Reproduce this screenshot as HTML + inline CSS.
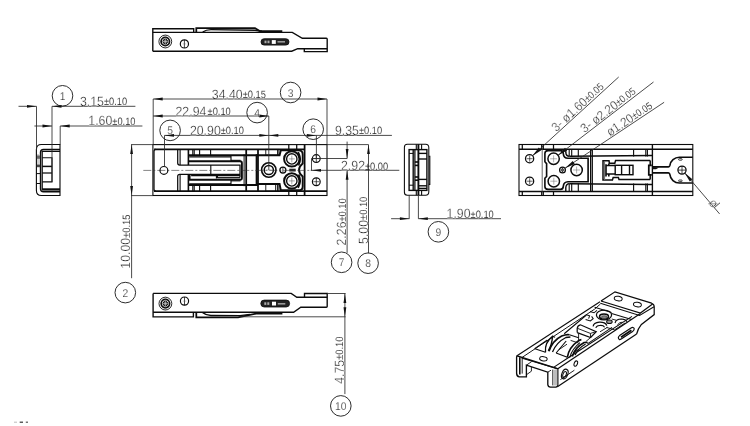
<!DOCTYPE html>
<html><head><meta charset="utf-8"><title>Drawing</title>
<style>
html,body{margin:0;padding:0;background:#fff;}
body{width:750px;height:426px;overflow:hidden;}
svg{display:block;font-family:"Liberation Sans",sans-serif;will-change:transform;text-rendering:geometricPrecision;}
</style></head><body>
<svg width="750" height="426" viewBox="0 0 750 426">
<rect x="0" y="0" width="750" height="426" fill="#fff"/>
<path d="M152.8,51.2 V28.7 H193.7 V32.4" stroke="#0c0c0c" stroke-width="1.38" fill="none" />
<path d="M152.8,32.4 H292.3 L302.3,38.3 H326.4 Q327.2,38.3 327.2,39.2 V51.6 H304.3 V48.7" stroke="#0c0c0c" stroke-width="1.38" fill="none" />
<path d="M152.8,51.2 H291.7 L297.7,48.7 H327.2" stroke="#0c0c0c" stroke-width="1.38" fill="none" />
<path d="M196.3,32.4 V28.1 H255 L259.7,31 H282.3" stroke="#0c0c0c" stroke-width="1.75" fill="none" />
<path d="M202.7,32 Q206,29.6 211,29.6 L255,30.2 L262,31.2" stroke="#0c0c0c" stroke-width="1.38" fill="none" />
<circle cx="165.3" cy="41.5" r="6.4" stroke="#0c0c0c" stroke-width="0.88" fill="none"/>
<circle cx="165.3" cy="41.5" r="4.2" stroke="#0c0c0c" stroke-width="1.75" fill="none"/>
<circle cx="165.3" cy="41.5" r="2.3" stroke="#0c0c0c" stroke-width="1.0" fill="#6a6a6a"/>
<line x1="165.3" y1="34.6" x2="165.3" y2="48.4" stroke="#666" stroke-width="0.4" />
<line x1="163" y1="41.5" x2="167.6" y2="41.5" stroke="#ddd" stroke-width="0.5" />
<line x1="165.3" y1="39.2" x2="165.3" y2="43.8" stroke="#ddd" stroke-width="0.5" />
<circle cx="184.4" cy="43.9" r="4.1" stroke="#0c0c0c" stroke-width="1.19" fill="none"/>
<line x1="184.4" y1="39.8" x2="184.4" y2="48" stroke="#0c0c0c" stroke-width="0.75" />
<line x1="182.6" y1="43.9" x2="186.2" y2="43.9" stroke="#666" stroke-width="0.4" />
<rect x="261" y="38.7" width="28" height="6.4" rx="3.2" stroke="#0c0c0c" stroke-width="0.8" fill="#222"/>
<rect x="271.8" y="40.1" width="4" height="3.8" rx="0" stroke="none" stroke-width="0" fill="#fff"/>
<rect x="264.5" y="40.6" width="2" height="2.6" rx="0" stroke="none" stroke-width="0" fill="#aaa"/>
<rect x="267.5" y="40.6" width="2" height="2.6" rx="0" stroke="none" stroke-width="0" fill="#aaa"/>
<rect x="277.5" y="41" width="7.5" height="1.6" rx="0" stroke="none" stroke-width="0" fill="#999"/>
<path d="M153.1,293.4 V316.9 H193.4 V312.5" stroke="#0c0c0c" stroke-width="1.38" fill="none" />
<path d="M153.1,293.4 H291.2 L296.8,297.2 H327.2" stroke="#0c0c0c" stroke-width="1.38" fill="none" />
<path d="M304.5,297.2 V293.5 H327.2 V306.6 Q327.2,307.3 326.4,307.3 H300.8 L293.6,312.3 H153.1" stroke="#0c0c0c" stroke-width="1.38" fill="none" />
<path d="M196.3,312.5 V317.4 H238 L256,313.6 H282.4" stroke="#0c0c0c" stroke-width="1.75" fill="none" />
<path d="M202.7,312.8 Q206,315.4 211,315.5 L240,315.6 L250,314.4" stroke="#0c0c0c" stroke-width="1.38" fill="none" />
<circle cx="165.4" cy="303.6" r="6.4" stroke="#0c0c0c" stroke-width="0.88" fill="none"/>
<circle cx="165.4" cy="303.6" r="4.2" stroke="#0c0c0c" stroke-width="1.75" fill="none"/>
<circle cx="165.4" cy="303.6" r="2.3" stroke="#0c0c0c" stroke-width="1.0" fill="#6a6a6a"/>
<line x1="165.4" y1="296.8" x2="165.4" y2="310.4" stroke="#666" stroke-width="0.4" />
<line x1="163.1" y1="303.6" x2="167.7" y2="303.6" stroke="#ddd" stroke-width="0.5" />
<line x1="165.4" y1="301.3" x2="165.4" y2="305.9" stroke="#ddd" stroke-width="0.5" />
<circle cx="184.5" cy="301.1" r="4.1" stroke="#0c0c0c" stroke-width="1.19" fill="none"/>
<line x1="184.5" y1="297" x2="184.5" y2="305.2" stroke="#0c0c0c" stroke-width="0.75" />
<line x1="182.7" y1="301.1" x2="186.3" y2="301.1" stroke="#666" stroke-width="0.4" />
<rect x="260.8" y="300.1" width="28.8" height="6.9" rx="3.4" stroke="#0c0c0c" stroke-width="0.8" fill="#222"/>
<rect x="272" y="301.7" width="4" height="3.8" rx="0" stroke="none" stroke-width="0" fill="#fff"/>
<rect x="264.3" y="302.3" width="2" height="2.6" rx="0" stroke="none" stroke-width="0" fill="#aaa"/>
<rect x="267.3" y="302.3" width="2" height="2.6" rx="0" stroke="none" stroke-width="0" fill="#aaa"/>
<rect x="277.8" y="303" width="7.5" height="1.6" rx="0" stroke="none" stroke-width="0" fill="#999"/>
<path d="M60,144.5 H41.4 Q36.4,144.5 36.4,149.5 V190.5 Q36.4,195.5 41.4,195.5 H60 Z" stroke="#0c0c0c" stroke-width="1.12" fill="none" />
<path d="M60,149.5 H43.5 Q40.5,149.5 40.5,152.5 V188.7 Q40.5,191.7 43.5,191.7 H60" stroke="#0c0c0c" stroke-width="1.38" fill="none" />
<path d="M60,151.4 H42.2 V189.2 H60" stroke="#0c0c0c" stroke-width="1.25" fill="none" />
<line x1="42.2" y1="189.6" x2="60" y2="189.6" stroke="#0c0c0c" stroke-width="2.0" />
<path d="M42.2,157.7 H52 V181.9 H42.2" stroke="#0c0c0c" stroke-width="1.12" fill="none" />
<line x1="42.2" y1="166.4" x2="52" y2="166.4" stroke="#0c0c0c" stroke-width="1.5" />
<line x1="42.2" y1="173" x2="52" y2="173" stroke="#0c0c0c" stroke-width="1.25" />
<rect x="37" y="154" width="3" height="12" rx="0" stroke="none" stroke-width="0" fill="#d0d0d0"/>
<rect x="36.9" y="155.5" width="3.2" height="3.3" rx="0" stroke="none" stroke-width="0" fill="#666"/>
<rect x="36.9" y="164.6" width="3.2" height="2.6" rx="0" stroke="none" stroke-width="0" fill="#444"/>
<line x1="36.4" y1="173.6" x2="40.5" y2="173.6" stroke="#0c0c0c" stroke-width="1.0" />
<line x1="36.4" y1="183.5" x2="40.5" y2="183.5" stroke="#0c0c0c" stroke-width="1.0" />
<line x1="18.5" y1="106.3" x2="36.5" y2="106.3" stroke="#2a2a2a" stroke-width="0.85" />
<polygon points="36.50,106.30 27.00,107.70 27.00,104.90" fill="#111"/>
<line x1="52" y1="106.3" x2="135.4" y2="106.3" stroke="#2a2a2a" stroke-width="0.85" />
<polygon points="52.00,106.30 61.50,104.90 61.50,107.70" fill="#111"/>
<line x1="36.5" y1="106.3" x2="36.5" y2="150" stroke="#2a2a2a" stroke-width="0.85" />
<line x1="52" y1="106.3" x2="52" y2="182" stroke="#2a2a2a" stroke-width="0.85" />
<line x1="34.4" y1="126" x2="52" y2="126" stroke="#2a2a2a" stroke-width="0.85" />
<polygon points="52.00,126.00 42.50,127.40 42.50,124.60" fill="#111"/>
<line x1="60.2" y1="126" x2="142.4" y2="126" stroke="#2a2a2a" stroke-width="0.85" />
<polygon points="60.20,126.00 69.70,124.60 69.70,127.40" fill="#111"/>
<line x1="60.2" y1="126" x2="60.2" y2="144.5" stroke="#2a2a2a" stroke-width="0.85" />
<circle cx="62.5" cy="95.8" r="10.3" stroke="#222" stroke-width="0.95" fill="none"/>
<text transform="translate(62.5 99.8) scale(0.92 1)" text-anchor="middle" font-size="11.2" fill="#151515" stroke="#fff" stroke-width="0.25" paint-order="fill">1</text>
<g transform="translate(79.9 105.80000000000001) rotate(0)" fill="#1c1c1c"><text transform="scale(0.92 1)" font-size="13.4" stroke="#fff" stroke-width="0.3" paint-order="fill">3.15</text><text transform="translate(23.99 -0.6) scale(0.87 1)" font-size="10.7" fill="#1c1c1c" stroke="#fff" stroke-width="0.12" paint-order="fill">±0.10</text></g>
<g transform="translate(88.3 125.4) rotate(0)" fill="#1c1c1c"><text transform="scale(0.92 1)" font-size="13.4" stroke="#fff" stroke-width="0.3" paint-order="fill">1.60</text><text transform="translate(23.99 -0.6) scale(0.87 1)" font-size="10.7" fill="#1c1c1c" stroke="#fff" stroke-width="0.12" paint-order="fill">±0.10</text></g>
<rect x="152.9" y="144.6" width="174.1" height="50.900000000000006" rx="0" stroke="#0c0c0c" stroke-width="1.1" fill="none"/>
<line x1="154" y1="149.4" x2="304.5" y2="149.4" stroke="#0c0c0c" stroke-width="1.75" />
<line x1="154" y1="191.2" x2="327.0" y2="191.2" stroke="#0c0c0c" stroke-width="1.75" />
<path d="M177.7,149.4 V163 Q177.7,165 179.7,165 H240 V177.6 M240,174.3 H179.7 Q177.7,174.3 177.7,176.3 V191.2" stroke="#0c0c0c" stroke-width="1.25" fill="none" />
<path d="M156,149.4 Q154,149.4 154,151.4 V189.2 Q154,191.2 156,191.2" stroke="#0c0c0c" stroke-width="1.25" fill="none" />
<line x1="180.1" y1="149.4" x2="180.1" y2="165" stroke="#0c0c0c" stroke-width="1.12" />
<line x1="180.1" y1="174.3" x2="180.1" y2="191.2" stroke="#0c0c0c" stroke-width="1.12" />
<line x1="188.4" y1="149.4" x2="188.4" y2="165" stroke="#0c0c0c" stroke-width="1.62" />
<line x1="188.4" y1="174.3" x2="188.4" y2="191.2" stroke="#0c0c0c" stroke-width="1.62" />
<line x1="210.8" y1="165" x2="210.8" y2="174.3" stroke="#0c0c0c" stroke-width="1.12" />
<line x1="188.4" y1="155.2" x2="258" y2="155.2" stroke="#0c0c0c" stroke-width="1.88" />
<line x1="188.4" y1="185.0" x2="258" y2="185.0" stroke="#0c0c0c" stroke-width="1.88" />
<line x1="192.8" y1="149.4" x2="192.8" y2="155.2" stroke="#0c0c0c" stroke-width="1.12" />
<line x1="192.8" y1="185" x2="192.8" y2="191.2" stroke="#0c0c0c" stroke-width="1.12" />
<line x1="194.2" y1="149.4" x2="194.2" y2="155.2" stroke="#0c0c0c" stroke-width="1.12" />
<line x1="194.2" y1="185" x2="194.2" y2="191.2" stroke="#0c0c0c" stroke-width="1.12" />
<line x1="199.6" y1="149.4" x2="199.6" y2="155.2" stroke="#0c0c0c" stroke-width="1.12" />
<line x1="199.6" y1="185" x2="199.6" y2="191.2" stroke="#0c0c0c" stroke-width="1.12" />
<line x1="210.6" y1="149.4" x2="210.6" y2="155.2" stroke="#0c0c0c" stroke-width="1.12" />
<line x1="210.6" y1="185" x2="210.6" y2="191.2" stroke="#0c0c0c" stroke-width="1.12" />
<path d="M189.2,156.9 H231 M231,155.2 V161.3" stroke="#0c0c0c" stroke-width="1.12" fill="none" />
<path d="M189.2,183.9 H231 M231,179.8 V185" stroke="#0c0c0c" stroke-width="1.12" fill="none" />
<path d="M188.4,161.3 H240 Q241.9,161.3 241.9,163.1 V178 Q241.9,179.8 240,179.8 H189.6 V174.3" stroke="#0c0c0c" stroke-width="1.88" fill="none" />
<line x1="231" y1="160.3" x2="240.5" y2="160.3" stroke="#0c0c0c" stroke-width="1.0" />
<line x1="231" y1="180.9" x2="240.5" y2="180.9" stroke="#0c0c0c" stroke-width="1.0" />
<path d="M191.1,175.6 H216.5 V178.6 M217.4,178 V175.6 H240" stroke="#0c0c0c" stroke-width="1.25" fill="none" />
<line x1="217.4" y1="177.7" x2="240" y2="177.7" stroke="#0c0c0c" stroke-width="1.25" />
<line x1="244.1" y1="154.4" x2="244.1" y2="186.2" stroke="#0c0c0c" stroke-width="1.0" />
<line x1="246.2" y1="149.4" x2="246.2" y2="191.2" stroke="#0c0c0c" stroke-width="1.75" />
<line x1="258" y1="149.4" x2="258" y2="191.2" stroke="#0c0c0c" stroke-width="1.75" />
<path d="M256.6,155.2 H279.6 L280.8,150.4 H298.7 Q302.7,150.4 302.7,154.4 V163.5 Q299,166.5 299,170 Q299,173.5 302.7,176.5 V186.4 Q302.7,190.3 298.7,190.3 H280.8 L279.6,184 H256.6 Z" stroke="#0c0c0c" stroke-width="1.88" fill="none" />
<rect x="265.8" y="149.4" width="13.1" height="5.8" rx="0" stroke="#0c0c0c" stroke-width="0.9" fill="none"/>
<rect x="265.8" y="184" width="13.1" height="7.2" rx="0" stroke="#0c0c0c" stroke-width="0.9" fill="none"/>
<line x1="277.6" y1="149.4" x2="277.6" y2="155.2" stroke="#0c0c0c" stroke-width="1.0" />
<line x1="275.7" y1="184" x2="275.7" y2="191.2" stroke="#0c0c0c" stroke-width="1.0" />
<line x1="277.6" y1="184" x2="277.6" y2="191.2" stroke="#0c0c0c" stroke-width="1.0" />
<circle cx="268.8" cy="170" r="7.2" stroke="#0c0c0c" stroke-width="1.62" fill="none"/>
<circle cx="268.8" cy="170" r="4.6" stroke="#0c0c0c" stroke-width="1.5" fill="none"/>
<line x1="265.8" y1="170" x2="271.8" y2="170" stroke="#555" stroke-width="0.4" />
<circle cx="291.8" cy="158.9" r="7.7" stroke="#0c0c0c" stroke-width="2.0" fill="none"/>
<circle cx="291.8" cy="158.9" r="5.2" stroke="#0c0c0c" stroke-width="1.38" fill="none"/>
<line x1="288.8" y1="158.9" x2="294.8" y2="158.9" stroke="#555" stroke-width="0.5" />
<line x1="291.8" y1="155.5" x2="291.8" y2="162.3" stroke="#555" stroke-width="0.5" />
<circle cx="291.8" cy="180.9" r="7.7" stroke="#0c0c0c" stroke-width="2.0" fill="none"/>
<circle cx="291.8" cy="180.9" r="5.2" stroke="#0c0c0c" stroke-width="1.38" fill="none"/>
<line x1="288.8" y1="180.9" x2="294.8" y2="180.9" stroke="#555" stroke-width="0.5" />
<line x1="291.8" y1="177.5" x2="291.8" y2="184.3" stroke="#555" stroke-width="0.5" />
<path d="M298.2,152.2 Q302,158.9 298.6,165.5" stroke="#0c0c0c" stroke-width="1.62" fill="none" />
<path d="M298.6,174.5 Q302,180.9 298.2,187.8" stroke="#0c0c0c" stroke-width="1.62" fill="none" />
<circle cx="282.9" cy="170" r="3.0" stroke="#0c0c0c" stroke-width="1.25" fill="none"/>
<line x1="282.9" y1="167.2" x2="282.9" y2="172.8" stroke="#0c0c0c" stroke-width="0.75" />
<rect x="289.3" y="168.7" width="6.4" height="2.8" rx="0" stroke="none" stroke-width="0" fill="#222"/>
<line x1="288.8" y1="144.6" x2="288.8" y2="149.4" stroke="#0c0c0c" stroke-width="1.25" />
<line x1="288.8" y1="191.2" x2="288.8" y2="195.5" stroke="#0c0c0c" stroke-width="1.25" />
<line x1="296.7" y1="144.6" x2="296.7" y2="149.4" stroke="#0c0c0c" stroke-width="1.25" />
<line x1="296.7" y1="191.2" x2="296.7" y2="195.5" stroke="#0c0c0c" stroke-width="1.25" />
<line x1="304.6" y1="144.6" x2="304.6" y2="195.5" stroke="#0c0c0c" stroke-width="1.75" />
<circle cx="316.3" cy="158.6" r="3.9" stroke="#0c0c0c" stroke-width="1.19" fill="none"/>
<line x1="313.3" y1="158.6" x2="319.3" y2="158.6" stroke="#0c0c0c" stroke-width="0.62" />
<line x1="316.3" y1="154.7" x2="316.3" y2="162.5" stroke="#0c0c0c" stroke-width="0.75" />
<circle cx="316.3" cy="181.7" r="3.9" stroke="#0c0c0c" stroke-width="1.19" fill="none"/>
<line x1="313.3" y1="181.7" x2="319.3" y2="181.7" stroke="#0c0c0c" stroke-width="0.62" />
<line x1="316.3" y1="177.79999999999998" x2="316.3" y2="185.6" stroke="#0c0c0c" stroke-width="0.75" />
<line x1="143.3" y1="170.4" x2="312" y2="170.4" stroke="#333" stroke-width="0.6" stroke-dasharray="8 2 2 2"/>
<circle cx="163.9" cy="170.4" r="3.9" stroke="#0c0c0c" stroke-width="1.19" fill="none"/>
<line x1="131.1" y1="144.6" x2="152.9" y2="144.6" stroke="#2a2a2a" stroke-width="0.85" />
<line x1="131.1" y1="195.6" x2="152.9" y2="195.6" stroke="#2a2a2a" stroke-width="0.85" />
<line x1="131.6" y1="144.6" x2="131.6" y2="278.2" stroke="#2a2a2a" stroke-width="0.85" />
<polygon points="131.60,144.60 133.00,154.10 130.20,154.10" fill="#111"/>
<polygon points="131.60,195.60 130.20,186.10 133.00,186.10" fill="#111"/>
<circle cx="125.3" cy="292.6" r="10.3" stroke="#222" stroke-width="0.95" fill="none"/>
<text transform="translate(125.3 296.6) scale(0.92 1)" text-anchor="middle" font-size="11.2" fill="#151515" stroke="#fff" stroke-width="0.25" paint-order="fill">2</text>
<g transform="translate(130.4 268.7) rotate(-90)" fill="#1c1c1c"><text transform="scale(0.92 1)" font-size="13.4" stroke="#fff" stroke-width="0.3" paint-order="fill">10.00</text><text transform="translate(30.84 -0.6) scale(0.87 1)" font-size="10.7" fill="#1c1c1c" stroke="#fff" stroke-width="0.12" paint-order="fill">±0.15</text></g>
<line x1="153.2" y1="99" x2="327" y2="99" stroke="#2a2a2a" stroke-width="0.85" />
<polygon points="153.20,99.00 162.70,97.60 162.70,100.40" fill="#111"/>
<polygon points="327.00,99.00 317.50,100.40 317.50,97.60" fill="#111"/>
<line x1="153.2" y1="99" x2="153.2" y2="144.6" stroke="#2a2a2a" stroke-width="0.85" />
<line x1="327" y1="99" x2="327" y2="144.6" stroke="#2a2a2a" stroke-width="0.85" />
<g transform="translate(211.8 98.7) rotate(0)" fill="#1c1c1c"><text transform="scale(0.92 1)" font-size="13.4" stroke="#fff" stroke-width="0.3" paint-order="fill">34.40</text><text transform="translate(30.84 -0.6) scale(0.87 1)" font-size="10.7" fill="#1c1c1c" stroke="#fff" stroke-width="0.12" paint-order="fill">±0.15</text></g>
<circle cx="290.6" cy="92.5" r="10.3" stroke="#222" stroke-width="0.95" fill="none"/>
<text transform="translate(290.6 96.5) scale(0.92 1)" text-anchor="middle" font-size="11.2" fill="#151515" stroke="#fff" stroke-width="0.25" paint-order="fill">3</text>
<line x1="153.2" y1="116" x2="268.8" y2="116" stroke="#2a2a2a" stroke-width="0.85" />
<polygon points="153.20,116.00 162.70,114.60 162.70,117.40" fill="#111"/>
<polygon points="268.80,116.00 259.30,117.40 259.30,114.60" fill="#111"/>
<line x1="268.8" y1="116" x2="268.8" y2="169.9" stroke="#2a2a2a" stroke-width="0.85" />
<g transform="translate(175.5 115.60000000000001) rotate(0)" fill="#1c1c1c"><text transform="scale(0.92 1)" font-size="13.4" stroke="#fff" stroke-width="0.3" paint-order="fill">22.94</text><text transform="translate(32.04 -0.6) scale(0.87 1)" font-size="10.7" fill="#1c1c1c" stroke="#fff" stroke-width="0.12" paint-order="fill">±0.10</text></g>
<circle cx="257.1" cy="112.6" r="10.3" stroke="#222" stroke-width="0.95" fill="none"/>
<text transform="translate(257.1 116.6) scale(0.92 1)" text-anchor="middle" font-size="11.2" fill="#151515" stroke="#fff" stroke-width="0.25" paint-order="fill">4</text>
<line x1="164.5" y1="135.4" x2="391.9" y2="135.4" stroke="#2a2a2a" stroke-width="0.85" />
<polygon points="164.50,135.40 174.00,134.00 174.00,136.80" fill="#111"/>
<polygon points="268.80,135.40 259.30,136.80 259.30,134.00" fill="#111"/>
<polygon points="268.80,135.40 278.30,134.00 278.30,136.80" fill="#111"/>
<polygon points="316.40,135.40 306.90,136.80 306.90,134.00" fill="#111"/>
<line x1="164.5" y1="135.4" x2="164.5" y2="167" stroke="#2a2a2a" stroke-width="0.85" />
<line x1="316.4" y1="135.4" x2="316.4" y2="158.6" stroke="#2a2a2a" stroke-width="0.85" />
<g transform="translate(189.9 135.0) rotate(0)" fill="#1c1c1c"><text transform="scale(0.92 1)" font-size="13.4" stroke="#fff" stroke-width="0.3" paint-order="fill">20.90</text><text transform="translate(30.84 -0.6) scale(0.87 1)" font-size="10.7" fill="#1c1c1c" stroke="#fff" stroke-width="0.12" paint-order="fill">±0.10</text></g>
<circle cx="170.1" cy="130.4" r="10.3" stroke="#222" stroke-width="0.95" fill="none"/>
<text transform="translate(170.1 134.4) scale(0.92 1)" text-anchor="middle" font-size="11.2" fill="#151515" stroke="#fff" stroke-width="0.25" paint-order="fill">5</text>
<circle cx="313.2" cy="129.2" r="10.3" stroke="#222" stroke-width="0.95" fill="none"/>
<text transform="translate(313.2 133.2) scale(0.92 1)" text-anchor="middle" font-size="11.2" fill="#151515" stroke="#fff" stroke-width="0.25" paint-order="fill">6</text>
<g transform="translate(334.9 134.9) rotate(0)" fill="#1c1c1c"><text transform="scale(0.92 1)" font-size="13.4" stroke="#fff" stroke-width="0.3" paint-order="fill">9.35</text><text transform="translate(23.99 -0.6) scale(0.87 1)" font-size="10.7" fill="#1c1c1c" stroke="#fff" stroke-width="0.12" paint-order="fill">±0.10</text></g>
<line x1="316.4" y1="158.5" x2="347.1" y2="158.5" stroke="#2a2a2a" stroke-width="0.85" />
<line x1="347.1" y1="141.6" x2="347.1" y2="158.5" stroke="#2a2a2a" stroke-width="0.85" />
<polygon points="347.10,158.50 345.70,149.00 348.50,149.00" fill="#111"/>
<line x1="347.1" y1="170.3" x2="347.1" y2="252.9" stroke="#2a2a2a" stroke-width="0.85" />
<polygon points="347.10,170.30 348.50,179.80 345.70,179.80" fill="#111"/>
<line x1="310.7" y1="170.3" x2="399.3" y2="170.3" stroke="#2a2a2a" stroke-width="0.85" />
<line x1="311.5" y1="158.5" x2="311.5" y2="170.3" stroke="#2a2a2a" stroke-width="0.85" />
<line x1="311.5" y1="158.5" x2="316.4" y2="158.5" stroke="#2a2a2a" stroke-width="0.85" />
<polygon points="311.50,170.30 321.00,168.90 321.00,171.70" fill="#111"/>
<line x1="327" y1="144.6" x2="368.5" y2="144.6" stroke="#2a2a2a" stroke-width="0.85" />
<line x1="368.5" y1="144.6" x2="368.5" y2="253.3" stroke="#2a2a2a" stroke-width="0.85" />
<polygon points="368.50,144.60 369.90,154.10 367.10,154.10" fill="#111"/>
<g transform="translate(341 170.20000000000002) rotate(0)" fill="#1c1c1c"><text transform="scale(0.92 1)" font-size="13.4" stroke="#fff" stroke-width="0.3" paint-order="fill">2.92</text><text transform="translate(23.99 -0.6) scale(0.87 1)" font-size="10.7" fill="#1c1c1c" stroke="#fff" stroke-width="0.12" paint-order="fill">±0.00</text></g>
<circle cx="341.6" cy="262.3" r="10.3" stroke="#222" stroke-width="0.95" fill="none"/>
<text transform="translate(341.6 266.3) scale(0.92 1)" text-anchor="middle" font-size="11.2" fill="#151515" stroke="#fff" stroke-width="0.25" paint-order="fill">7</text>
<circle cx="368.1" cy="263.2" r="10.3" stroke="#222" stroke-width="0.95" fill="none"/>
<text transform="translate(368.1 267.2) scale(0.92 1)" text-anchor="middle" font-size="11.2" fill="#151515" stroke="#fff" stroke-width="0.25" paint-order="fill">8</text>
<g transform="translate(346.3 245.5) rotate(-90)" fill="#1c1c1c"><text transform="scale(0.92 1)" font-size="13.4" stroke="#fff" stroke-width="0.3" paint-order="fill">2.26</text><text transform="translate(23.99 -0.6) scale(0.87 1)" font-size="10.7" fill="#1c1c1c" stroke="#fff" stroke-width="0.12" paint-order="fill">±0.10</text></g>
<g transform="translate(367.6 243.9) rotate(-90)" fill="#1c1c1c"><text transform="scale(0.92 1)" font-size="13.4" stroke="#fff" stroke-width="0.3" paint-order="fill">5.00</text><text transform="translate(23.99 -0.6) scale(0.87 1)" font-size="10.7" fill="#1c1c1c" stroke="#fff" stroke-width="0.12" paint-order="fill">±0.10</text></g>
<line x1="327.2" y1="293.5" x2="345.6" y2="293.5" stroke="#2a2a2a" stroke-width="0.85" />
<line x1="240" y1="316.8" x2="345.6" y2="316.8" stroke="#2a2a2a" stroke-width="0.85" />
<line x1="344.9" y1="293.5" x2="344.9" y2="394.1" stroke="#2a2a2a" stroke-width="0.85" />
<polygon points="344.90,293.50 346.30,303.00 343.50,303.00" fill="#111"/>
<polygon points="344.90,316.80 343.50,307.30 346.30,307.30" fill="#111"/>
<circle cx="340.8" cy="405.9" r="10.3" stroke="#222" stroke-width="0.95" fill="none"/>
<text transform="translate(340.8 409.9) scale(0.92 1)" text-anchor="middle" font-size="11.2" fill="#151515" stroke="#fff" stroke-width="0.25" paint-order="fill">10</text>
<g transform="translate(343.6 383.79999999999995) rotate(-90)" fill="#1c1c1c"><text transform="scale(0.92 1)" font-size="13.4" stroke="#fff" stroke-width="0.3" paint-order="fill">4.75</text><text transform="translate(23.99 -0.6) scale(0.87 1)" font-size="10.7" fill="#1c1c1c" stroke="#fff" stroke-width="0.12" paint-order="fill">±0.10</text></g>
<path d="M407.3,144.2 H425.6 Q428.8,144.2 428.8,147.6 V191.8 Q428.8,195.2 425.6,195.2 H407.3 Q404.4,195.2 404.4,192.2 V147.2 Q404.4,144.2 407.3,144.2 Z" stroke="#0c0c0c" stroke-width="1.06" fill="none" />
<rect x="409.1" y="149.6" width="17.8" height="40.8" rx="0" stroke="#0c0c0c" stroke-width="1.4" fill="none"/>
<line x1="413.2" y1="149.6" x2="413.2" y2="190.4" stroke="#0c0c0c" stroke-width="1.38" />
<line x1="414.9" y1="149.6" x2="414.9" y2="190.4" stroke="#0c0c0c" stroke-width="1.25" />
<line x1="418.4" y1="144.2" x2="418.4" y2="195.2" stroke="#0c0c0c" stroke-width="1.88" />
<line x1="416.3" y1="144.2" x2="416.3" y2="149.6" stroke="#0c0c0c" stroke-width="1.12" />
<line x1="416.3" y1="190.4" x2="416.3" y2="195.2" stroke="#0c0c0c" stroke-width="1.12" />
<line x1="421.6" y1="144.2" x2="421.6" y2="149.6" stroke="#0c0c0c" stroke-width="1.12" />
<line x1="421.6" y1="190.4" x2="421.6" y2="195.2" stroke="#0c0c0c" stroke-width="1.12" />
<path d="M428.8,156.2 H429.8 V184.4 H428.8" stroke="#0c0c0c" stroke-width="1.12" fill="none" />
<line x1="418.4" y1="153.4" x2="426.9" y2="153.4" stroke="#0c0c0c" stroke-width="1.38" />
<line x1="418.4" y1="159" x2="426.9" y2="159" stroke="#0c0c0c" stroke-width="1.38" />
<line x1="418.4" y1="179.4" x2="426.9" y2="179.4" stroke="#0c0c0c" stroke-width="1.38" />
<line x1="418.4" y1="185.8" x2="426.9" y2="185.8" stroke="#0c0c0c" stroke-width="1.38" />
<line x1="418.4" y1="188.4" x2="426.9" y2="188.4" stroke="#0c0c0c" stroke-width="1.38" />
<line x1="414.9" y1="162" x2="418.4" y2="162" stroke="#0c0c0c" stroke-width="1.62" />
<line x1="414.9" y1="165.4" x2="418.4" y2="165.4" stroke="#0c0c0c" stroke-width="1.62" />
<line x1="414.9" y1="177" x2="418.4" y2="177" stroke="#0c0c0c" stroke-width="1.62" />
<line x1="414.9" y1="180.2" x2="418.4" y2="180.2" stroke="#0c0c0c" stroke-width="1.62" />
<line x1="409.1" y1="185.2" x2="413.2" y2="185.2" stroke="#0c0c0c" stroke-width="1.0" />
<line x1="409.1" y1="153.4" x2="413.2" y2="153.4" stroke="#0c0c0c" stroke-width="1.0" />
<line x1="409.2" y1="195" x2="409.2" y2="218.7" stroke="#2a2a2a" stroke-width="0.85" />
<line x1="418.4" y1="195" x2="418.4" y2="218.7" stroke="#2a2a2a" stroke-width="0.85" />
<line x1="391.1" y1="218.7" x2="409.4" y2="218.7" stroke="#2a2a2a" stroke-width="0.85" />
<polygon points="409.40,218.70 399.90,220.10 399.90,217.30" fill="#111"/>
<line x1="418.3" y1="218.7" x2="501" y2="218.7" stroke="#2a2a2a" stroke-width="0.85" />
<polygon points="418.30,218.70 427.80,217.30 427.80,220.10" fill="#111"/>
<g transform="translate(446.6 218.3) rotate(0)" fill="#1c1c1c"><text transform="scale(0.92 1)" font-size="13.4" stroke="#fff" stroke-width="0.3" paint-order="fill">1.90</text><text transform="translate(23.99 -0.6) scale(0.87 1)" font-size="10.7" fill="#1c1c1c" stroke="#fff" stroke-width="0.12" paint-order="fill">±0.10</text></g>
<circle cx="438.4" cy="231.8" r="10.3" stroke="#222" stroke-width="0.95" fill="none"/>
<text transform="translate(438.4 235.8) scale(0.92 1)" text-anchor="middle" font-size="11.2" fill="#151515" stroke="#fff" stroke-width="0.25" paint-order="fill">9</text>
<rect x="519" y="144.5" width="173.79999999999995" height="51.0" rx="0" stroke="#0c0c0c" stroke-width="1.1" fill="none"/>
<line x1="519" y1="149.3" x2="692.8" y2="149.3" stroke="#0c0c0c" stroke-width="1.5" />
<line x1="519" y1="191.5" x2="692.8" y2="191.5" stroke="#0c0c0c" stroke-width="1.5" />
<line x1="522.3" y1="144.5" x2="522.3" y2="149.3" stroke="#0c0c0c" stroke-width="1.25" />
<line x1="522.3" y1="191.5" x2="522.3" y2="195.5" stroke="#0c0c0c" stroke-width="1.25" />
<line x1="541.7" y1="144.5" x2="541.7" y2="149.3" stroke="#0c0c0c" stroke-width="1.25" />
<line x1="541.7" y1="191.5" x2="541.7" y2="195.5" stroke="#0c0c0c" stroke-width="1.25" />
<line x1="543.3" y1="144.5" x2="543.3" y2="149.3" stroke="#0c0c0c" stroke-width="1.25" />
<line x1="543.3" y1="191.5" x2="543.3" y2="195.5" stroke="#0c0c0c" stroke-width="1.25" />
<line x1="553.5" y1="144.5" x2="553.5" y2="149.3" stroke="#0c0c0c" stroke-width="1.25" />
<line x1="553.5" y1="191.5" x2="553.5" y2="195.5" stroke="#0c0c0c" stroke-width="1.25" />
<line x1="542.2" y1="149.3" x2="542.2" y2="191.5" stroke="#555" stroke-width="0.9" />
<circle cx="529.6" cy="158.7" r="4.1" stroke="#0c0c0c" stroke-width="1.25" fill="none"/>
<line x1="526.7" y1="158.7" x2="532.7" y2="158.7" stroke="#0c0c0c" stroke-width="0.62" />
<line x1="529.7" y1="155.7" x2="529.7" y2="161.7" stroke="#0c0c0c" stroke-width="0.62" />
<circle cx="529.6" cy="181.2" r="4.1" stroke="#0c0c0c" stroke-width="1.25" fill="none"/>
<line x1="526.7" y1="181.2" x2="532.7" y2="181.2" stroke="#0c0c0c" stroke-width="0.62" />
<line x1="529.7" y1="178.2" x2="529.7" y2="184.2" stroke="#0c0c0c" stroke-width="0.62" />
<path d="M546.6,170 V163.6 L544.9,161.8 V153.4 Q545,150.7 548,150.6 H560.6 Q563.2,150.8 563.3,153.6 Q563.6,158.2 568,158.3 H588.1 V181.7 H568 Q563.6,181.8 563.3,186.4 Q563.2,189.2 560.6,189.4 H548 Q545,189.3 544.9,186.6 V178.2 L546.6,176.4 V170" stroke="#0c0c0c" stroke-width="1.62" fill="none" />
<path d="M565.8,149.6 V152.4 Q566,156.3 569.6,156.4" stroke="#0c0c0c" stroke-width="1.38" fill="none" />
<path d="M565.8,191.2 V187.6 Q566,183.7 569.6,183.6" stroke="#0c0c0c" stroke-width="1.38" fill="none" />
<circle cx="553.6" cy="158.8" r="5.7" stroke="#0c0c0c" stroke-width="1.5" fill="none"/>
<line x1="550.1" y1="158.8" x2="557.1" y2="158.8" stroke="#666" stroke-width="0.5" />
<line x1="553.6" y1="155.3" x2="553.6" y2="162.3" stroke="#666" stroke-width="0.5" />
<circle cx="553.8" cy="181.2" r="5.7" stroke="#0c0c0c" stroke-width="1.5" fill="none"/>
<line x1="550.3" y1="181.2" x2="557.3" y2="181.2" stroke="#666" stroke-width="0.5" />
<line x1="553.8" y1="177.7" x2="553.8" y2="184.7" stroke="#666" stroke-width="0.5" />
<circle cx="576.6" cy="170" r="5.7" stroke="#0c0c0c" stroke-width="1.5" fill="none"/>
<line x1="573.1" y1="170" x2="580.1" y2="170" stroke="#666" stroke-width="0.5" />
<line x1="576.6" y1="166.5" x2="576.6" y2="173.5" stroke="#666" stroke-width="0.5" />
<circle cx="562.5" cy="170" r="2.9" stroke="#0c0c0c" stroke-width="1.25" fill="none"/>
<circle cx="562.5" cy="170" r="1.3" stroke="#0c0c0c" stroke-width="0.75" fill="none"/>
<line x1="562.5" y1="167.6" x2="562.5" y2="172.4" stroke="#0c0c0c" stroke-width="0.62" />
<line x1="590.6" y1="149.3" x2="590.6" y2="191.5" stroke="#0c0c0c" stroke-width="1.25" />
<line x1="592.3" y1="149.3" x2="592.3" y2="191.5" stroke="#0c0c0c" stroke-width="1.25" />
<line x1="569.6" y1="156.2" x2="652.4" y2="155.6" stroke="#0c0c0c" stroke-width="1.5" />
<line x1="569.6" y1="183.8" x2="652.4" y2="184.4" stroke="#0c0c0c" stroke-width="1.5" />
<line x1="569.2" y1="149.3" x2="569.2" y2="156.4" stroke="#0c0c0c" stroke-width="1.12" />
<line x1="571.7" y1="149.3" x2="571.7" y2="156.4" stroke="#0c0c0c" stroke-width="1.12" />
<line x1="578.3" y1="149.3" x2="578.3" y2="156.4" stroke="#0c0c0c" stroke-width="1.12" />
<line x1="633.6" y1="149.3" x2="633.6" y2="156.4" stroke="#0c0c0c" stroke-width="1.12" />
<line x1="645.8" y1="149.3" x2="645.8" y2="156.4" stroke="#0c0c0c" stroke-width="1.12" />
<line x1="647.4" y1="149.3" x2="647.4" y2="156.4" stroke="#0c0c0c" stroke-width="1.12" />
<line x1="569.2" y1="183.6" x2="569.2" y2="191.5" stroke="#0c0c0c" stroke-width="1.12" />
<line x1="571.7" y1="183.6" x2="571.7" y2="191.5" stroke="#0c0c0c" stroke-width="1.12" />
<line x1="578.3" y1="183.6" x2="578.3" y2="191.5" stroke="#0c0c0c" stroke-width="1.12" />
<line x1="633.6" y1="183.6" x2="633.6" y2="191.5" stroke="#0c0c0c" stroke-width="1.12" />
<line x1="645.8" y1="183.6" x2="645.8" y2="191.5" stroke="#0c0c0c" stroke-width="1.12" />
<line x1="647.4" y1="183.6" x2="647.4" y2="191.5" stroke="#0c0c0c" stroke-width="1.12" />
<line x1="652.4" y1="144.5" x2="652.4" y2="195.5" stroke="#0c0c0c" stroke-width="1.38" />
<path d="M650.2,160.4 H615.6 L614.8,163.3 H609.4 L609,160.8 H603 V180.1 H612.4 L613.2,177.6 H618.4 L619,179.6 H650.2" stroke="#0c0c0c" stroke-width="1.5" fill="none" />
<line x1="604.6" y1="161" x2="604.6" y2="180" stroke="#666" stroke-width="1.0" />
<path d="M606,164.2 V176.4 M606,165.5 H615.2 M606,174 H615.2 M608.8,165.5 V163.4 M608.8,174 V176.6" stroke="#0c0c0c" stroke-width="1.62" fill="none" />
<rect x="615.2" y="165.3" width="17.8" height="9.4" rx="0" stroke="#0c0c0c" stroke-width="1.4" fill="none"/>
<line x1="621.6" y1="165.3" x2="621.6" y2="174.7" stroke="#0c0c0c" stroke-width="1.38" />
<line x1="629.5" y1="165.3" x2="629.5" y2="174.7" stroke="#0c0c0c" stroke-width="1.38" />
<path d="M650.2,160.4 V165.3 M650.2,174.8 V179.6" stroke="#0c0c0c" stroke-width="1.5" fill="none" />
<path d="M651.8,165.3 H648.8 V174.8 H651.8" stroke="#0c0c0c" stroke-width="1.75" fill="none" />
<path d="M652.4,166.9 H668.4 Q669.7,166.8 669.9,165.4 A9.6,9.2 0 0 1 679.4,157.2 H692.8" stroke="#0c0c0c" stroke-width="1.62" fill="none" />
<path d="M652.4,172.9 H668.4 Q669.7,173 669.9,174.6 A9.6,9.2 0 0 0 679.4,183 H692.8" stroke="#0c0c0c" stroke-width="1.62" fill="none" />
<polygon points="652.4,167 659,167.6 656,169.2 652.4,169.2" fill="#111"/>
<rect x="678.6" y="158.6" width="3.6" height="1.6" rx="0.8" stroke="#0c0c0c" stroke-width="0.8" fill="none"/>
<rect x="678.6" y="180" width="3.6" height="1.6" rx="0.8" stroke="#0c0c0c" stroke-width="0.8" fill="none"/>
<circle cx="682" cy="170.1" r="4.1" stroke="#0c0c0c" stroke-width="1.25" fill="none"/>
<line x1="678" y1="170.1" x2="686" y2="170.1" stroke="#0c0c0c" stroke-width="0.75" />
<line x1="682" y1="166" x2="682" y2="174" stroke="#0c0c0c" stroke-width="0.75" />
<line x1="532.3" y1="155.9" x2="618.7" y2="77.0" stroke="#2a2a2a" stroke-width="0.85" />
<polygon points="532.30,155.90 538.84,147.49 541.27,150.15" fill="#111"/>
<g transform="translate(556.18 132.33) rotate(-42.4)" fill="#1c1c1c"><text transform="scale(0.92 1)" font-size="12.7" stroke="#fff" stroke-width="0.3" paint-order="fill">3- ø1.60</text><text transform="translate(43.51 -0.6) scale(0.87 1)" font-size="10.3" fill="#1c1c1c" stroke="#fff" stroke-width="0.12" paint-order="fill">±0.05</text></g>
<line x1="557.8" y1="155.5" x2="653.5" y2="82.0" stroke="#2a2a2a" stroke-width="0.85" />
<polygon points="557.80,155.50 565.03,147.68 567.22,150.53" fill="#111"/>
<g transform="translate(584.58 133.31) rotate(-37.53)" fill="#1c1c1c"><text transform="scale(0.92 1)" font-size="12.7" stroke="#fff" stroke-width="0.3" paint-order="fill">3- ø2.20</text><text transform="translate(43.51 -0.6) scale(0.87 1)" font-size="10.3" fill="#1c1c1c" stroke="#fff" stroke-width="0.12" paint-order="fill">±0.05</text></g>
<line x1="565.0" y1="168.2" x2="664.1" y2="102.3" stroke="#2a2a2a" stroke-width="0.85" />
<polygon points="565.00,168.20 572.75,160.89 574.74,163.88" fill="#111"/>
<g transform="translate(609.91 136.81) rotate(-33.62)" fill="#1c1c1c"><text transform="scale(0.92 1)" font-size="12.7" stroke="#fff" stroke-width="0.3" paint-order="fill">ø1.20</text><text transform="translate(29.88 -0.6) scale(0.87 1)" font-size="10.3" fill="#1c1c1c" stroke="#fff" stroke-width="0.12" paint-order="fill">±0.05</text></g>
<line x1="684.6" y1="172.8" x2="719.6" y2="213.9" stroke="#2a2a2a" stroke-width="0.85" />
<polygon points="684.60,172.80 692.38,179.31 689.79,181.52" fill="#111"/>
<text x="708" y="203" transform="rotate(50 708 203)" font-size="12.5" fill="#333" stroke="#fff" stroke-width="0.3" paint-order="fill">ø</text>
<line x1="714.5" y1="207.5" x2="720" y2="202.8" stroke="#2a2a2a" stroke-width="0.85" />
<path d="M601,301 L615,291.8 L651.6,303.2 Q654.2,304.2 654.2,306.6 V314.6 L641.4,324.4 Q638,328.6 636.6,334" stroke="#0c0c0c" stroke-width="1.23" fill="none" />
<path d="M601,301 L640.4,313 L652.6,304" stroke="#0c0c0c" stroke-width="1.23" fill="none" />
<path d="M600.4,303.2 L639.6,315.4 L654,306.8" stroke="#0c0c0c" stroke-width="1.01" fill="none" />
<ellipse cx="618.2" cy="298.6" rx="4.0" ry="2.3" transform="rotate(10 618.2 298.6)" stroke="#0c0c0c" fill="none" stroke-width="1.01"/>
<ellipse cx="637.4" cy="304.6" rx="4.0" ry="2.3" transform="rotate(10 637.4 304.6)" stroke="#0c0c0c" fill="none" stroke-width="1.01"/>
<path d="M517,355.8 L600,301.8" stroke="#0c0c0c" stroke-width="1.12" fill="none" />
<path d="M521.4,357.9 L594.8,309 L600.4,304" stroke="#0c0c0c" stroke-width="0.95" fill="none" />
<path d="M534.6,348.6 L547.4,340 M564.2,333.8 L586.4,315" stroke="#0c0c0c" stroke-width="1.12" fill="none" />
<path d="M517,355.8 Q516.6,356.4 516.6,357.4 V373.4 Q516.8,376.6 519.4,376.8 H526.4 V365.2 L547.8,372.2 V384.6 Q548.2,387 550.4,387.2 H555.8 Q557.8,387 557.8,384.8 V368.8 Z" stroke="#0c0c0c" stroke-width="1.34" fill="none" />
<path d="M519.8,357.2 V374.4" stroke="#0c0c0c" stroke-width="1.57" fill="none" />
<path d="M522.2,358 V373.6" stroke="#0c0c0c" stroke-width="0.9" fill="none" />
<path d="M552.8,369.6 V385.4" stroke="#0c0c0c" stroke-width="0.9" fill="none" />
<path d="M526.4,365.2 L531.6,361.6 M526.4,374.8 L531.4,371.2 V367 M547.8,372.2 L551,370.2" stroke="#0c0c0c" stroke-width="0.9" fill="none" />
<polygon points="553.3,369.9 557.3,368.9 557.3,385.6 553.3,385.6" fill="#bdbdbd"/>
<path d="M522.2,358.2 L557.8,368.8" stroke="#0c0c0c" stroke-width="1.01" fill="none" />
<path d="M557.8,368.8 L640.4,313.6" stroke="#0c0c0c" stroke-width="1.23" fill="none" />
<path d="M553.6,367.4 L567.5,358.2 L632,316.4" stroke="#0c0c0c" stroke-width="1.12" fill="none" />
<path d="M587.2,337.6 L610,322.4 L627.6,318.4" stroke="#0c0c0c" stroke-width="0.0" fill="none" />
<path d="M574,352.4 L578.6,349.4 M587.4,343.8 L612,327.4" stroke="#0c0c0c" stroke-width="1.01" fill="none" />
<path d="M557.8,386.6 L636.6,334" stroke="#0c0c0c" stroke-width="1.23" fill="none" />
<path d="M560.4,379.6 L574.4,370.2" stroke="#0c0c0c" stroke-width="0.9" fill="none" />
<ellipse cx="564.8" cy="374" rx="2.9" ry="5.0" transform="rotate(22 564.8 374)" stroke="#0c0c0c" fill="none" stroke-width="1.12"/>
<ellipse cx="564.6" cy="374.4" rx="1.6" ry="3.0" transform="rotate(22 564.6 374.4)" stroke="#0c0c0c" fill="none" stroke-width="1.01"/>
<ellipse cx="575.8" cy="363.6" rx="1.6" ry="2.8" transform="rotate(22 575.8 363.6)" stroke="#0c0c0c" fill="none" stroke-width="1.01"/>
<path d="M619.4,339.6 Q617.2,337.6 619.6,335.6 L630.6,328.2 Q633.6,326.6 634.2,328.6 Q634.4,330.2 632.6,331.4 L621.6,338.8 Q620.4,339.6 619.4,339.6 Z" stroke="#0c0c0c" stroke-width="1.23" fill="none" />
<path d="M621,337.2 L631.4,330.2" stroke="#0c0c0c" stroke-width="1.79" fill="none" />
<ellipse cx="543.4" cy="358.8" rx="3.8" ry="2.1" transform="rotate(8 543.4 358.8)" stroke="#0c0c0c" fill="none" stroke-width="1.01"/>
<path d="M534.9,348.8 L545.5,352.3" stroke="#0c0c0c" stroke-width="1.12" fill="none" />
<path d="M545.5,352.3 Q544.4,342.6 552.5,336.4 Q552.2,344 548.3,350.9" stroke="#0c0c0c" stroke-width="1.34" fill="none" />
<path d="M552.5,336.4 L555.1,337.3" stroke="#0c0c0c" stroke-width="1.01" fill="none" />
<path d="M549,351.3 Q552.6,340.6 561.7,336.1 Q566.6,334 569.4,334.8" stroke="#0c0c0c" stroke-width="1.68" fill="none" />
<path d="M552.5,351.9 Q556.6,342.2 565.9,337.5 L570.4,337" stroke="#0c0c0c" stroke-width="1.34" fill="none" />
<path d="M550.6,348.4 Q553.4,341.4 558.6,338" stroke="#0c0c0c" stroke-width="0.0" fill="none" />
<path d="M556.1,353 L567.3,357.3 M556.1,353 L566.2,341" stroke="#0c0c0c" stroke-width="1.12" fill="none" />
<path d="M559,349.6 L567,344.2" stroke="#0c0c0c" stroke-width="0.9" fill="none" />
<path d="M569.4,334.8 L578.6,337.8" stroke="#0c0c0c" stroke-width="1.01" fill="none" />
<path d="M570.6,340.4 L578.6,343" stroke="#0c0c0c" stroke-width="0.9" fill="none" />
<path d="M567.3,357.3 Q568.8,347.6 577.9,341.1 Q579.8,339.8 581.4,339.6" stroke="#0c0c0c" stroke-width="1.68" fill="none" />
<path d="M569.6,357.6 Q572.2,348.6 580,342.6" stroke="#0c0c0c" stroke-width="1.12" fill="none" />
<path d="M572.3,356.5 Q575,347.4 584.2,342.5 L587.7,342.5" stroke="#0c0c0c" stroke-width="1.68" fill="none" />
<path d="M575.1,355.1 Q577.8,348.4 585.6,343.9" stroke="#0c0c0c" stroke-width="1.12" fill="none" />
<path d="M577.2,332.6 V328.6 Q577.6,325.2 580.4,324.8 L596.2,331.6 L590.6,337.5 L577.2,332.6" stroke="#0c0c0c" stroke-width="1.23" fill="none" />
<path d="M577.6,328.4 L590.4,333.4 L596.2,331.6 M590.4,333.4 L590.6,337.5" stroke="#0c0c0c" stroke-width="0.9" fill="none" />
<path d="M578.6,333.3 V341.8 M590.6,337.5 L585.6,341.8" stroke="#0c0c0c" stroke-width="0.9" fill="none" />
<ellipse cx="604" cy="315" rx="7.6" ry="4.9" stroke="#0c0c0c" fill="none" stroke-width="1.23"/>
<ellipse cx="604" cy="316.6" rx="4.5" ry="2.5" stroke="#0c0c0c" fill="#c4c4c4" stroke-width="1.46"/>
<ellipse cx="604.2" cy="317.2" rx="2.8" ry="1.3" stroke="#444" fill="#8c8c8c" stroke-width="0.8"/>
<path d="M593.3,326.4 A6.7,3.9 0 0 1 606.7,325.6" stroke="#0c0c0c" stroke-width="1.34" fill="none" />
<path d="M596,328 A4.4,2.5 0 0 1 604.6,327.2" stroke="#0c0c0c" stroke-width="1.12" fill="none" />
<ellipse cx="609.4" cy="321.8" rx="2.8" ry="1.8" stroke="#0c0c0c" fill="#9a9a9a" stroke-width="1.01"/>
<path d="M615,323 Q616,319 621.4,319 Q625.6,319.2 627,321.6" stroke="#0c0c0c" stroke-width="1.12" fill="none" />
<path d="M617.6,324.8 Q619,322 622.4,322.2" stroke="#0c0c0c" stroke-width="0.9" fill="none" />
<path d="M586.4,314.8 L589.6,315.8 L588.6,318.6 M590,311.6 L594,312.8 L597,310.4 M585.6,319.6 L590.4,321 L593.2,318.6 L591.6,316.4" stroke="#0c0c0c" stroke-width="1.01" fill="none" />
<path d="M594.6,307.2 L599.6,308.8 L611.4,312.6 M611.6,313.6 L631.6,319.6" stroke="#0c0c0c" stroke-width="1.01" fill="none" />
<path d="M606.4,327.4 L614.6,329.8 L625,323 M611.8,319 L616,320.2" stroke="#0c0c0c" stroke-width="0.9" fill="none" />
<path d="M600,331.8 L607.6,327.2" stroke="#0c0c0c" stroke-width="0.9" fill="none" />
<line x1="14" y1="422.2" x2="17" y2="422.2" stroke="#bbb" stroke-width="1" />
<line x1="19.7" y1="422.2" x2="23" y2="422.2" stroke="#333" stroke-width="1.2" />
<line x1="25.8" y1="422.2" x2="28" y2="422.2" stroke="#555" stroke-width="1.2" />
</svg>
</body></html>
